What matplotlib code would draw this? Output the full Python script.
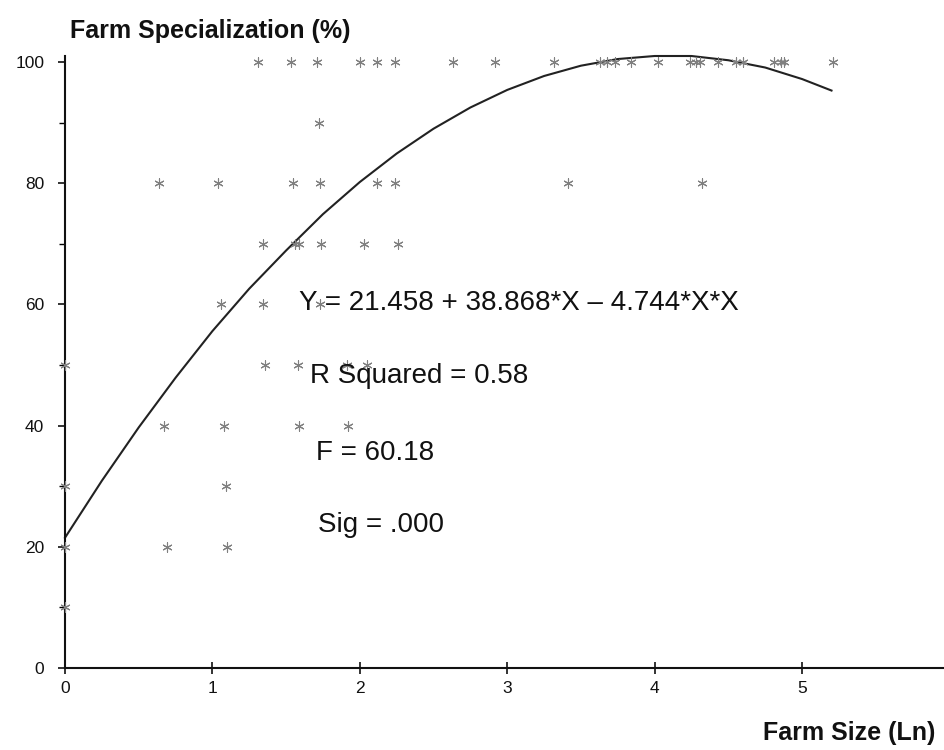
import matplotlib
matplotlib.use("Agg")
import matplotlib.pyplot as plt
from matplotlib.ticker import MultipleLocator

plt.rcParams["font.family"] = ["Liberation Sans", "DejaVu Sans"]

# scatter points: farm size (ln) vs specialization (%)
farm_size = [
    # y = 100
    1.31, 1.53, 1.71, 2.00, 2.12, 2.24, 2.63, 2.92, 3.32, 3.63, 3.68, 3.73,
    3.84, 4.02, 4.24, 4.28, 4.31, 4.43, 4.55, 4.60, 4.81, 4.86, 4.88, 5.21,
    # y = 90
    1.72,
    # y = 80
    0.64, 1.04, 1.55, 1.73, 2.12, 2.24, 3.41, 4.32,
    # y = 70
    1.34, 1.56, 1.59, 1.74, 2.03, 2.26,
    # y = 60
    1.06, 1.34, 1.73,
    # y = 50
    0.0, 1.36, 1.58, 1.91, 2.05,
    # y = 40
    0.67, 1.08, 1.59, 1.92,
    # y = 30
    0.0, 1.09,
    # y = 20
    0.0, 0.69, 1.10,
    # y = 10
    0.0,
]
specialization = (
    [100] * 24 + [90] + [80] * 8 + [70] * 6 + [60] * 3 + [50] * 5
    + [40] * 4 + [30] * 2 + [20] * 3 + [10]
)

# fitted quadratic curve, sampled from the drawn line
curve_x = [0.0, 0.25, 0.5, 0.75, 1.0, 1.25, 1.5, 1.75, 2.0, 2.25, 2.5,
           2.75, 3.0, 3.25, 3.5, 3.75, 4.0, 4.25, 4.5, 4.75, 5.0, 5.2]
curve_y = [21.5, 30.9, 39.7, 47.9, 55.6, 62.6, 68.9, 74.9, 80.2, 84.9, 89.0,
           92.5, 95.4, 97.7, 99.4, 100.5, 101.0, 101.0, 100.3, 99.1, 97.2, 95.3]

stats_lines = [
    ("Y = 21.458 + 38.868*X \u2013 4.744*X*X", 1.59, 59.0),
    ("R Squared = 0.58", 1.66, 47.0),
    ("F = 60.18", 1.70, 34.3),
    ("Sig = .000", 1.715, 22.5),
]

fig = plt.figure(figsize=(9.45, 7.5), dpi=100)
ax = fig.add_axes([65 / 945, 82 / 750, 1 - 65 / 945, 612 / 750])

ax.plot(curve_x, curve_y, color="#222222", lw=1.5, clip_on=False, zorder=2)
ax.scatter(farm_size, specialization, marker=(6, 2, 0), s=45,
           color="#808080", linewidths=0.8, clip_on=False, zorder=3)

for txt, tx, ty in stats_lines:
    ax.text(tx, ty, txt, fontsize=20, va="baseline", ha="left", color="#111111")

ax.set_xlim(0, 5.97)
ax.set_ylim(0, 101)
for side in ("top", "right"):
    ax.spines[side].set_visible(False)
for side in ("left", "bottom"):
    ax.spines[side].set_linewidth(1.5)
    ax.spines[side].set_color("#111111")

ax.yaxis.set_major_locator(MultipleLocator(20))
ax.yaxis.set_minor_locator(MultipleLocator(10))
ax.set_xticks([0, 1, 2, 3, 4, 5])
ax.tick_params(axis="x", direction="inout", length=9, width=1.2,
               labelsize=12.5, pad=5, colors="#111111")
ax.tick_params(axis="y", which="major", direction="out", length=5, width=1.2,
               labelsize=12.5, pad=10, colors="#111111")
ax.tick_params(axis="y", which="minor", direction="out", length=4, width=1.0)

fig.text(70 / 945, 1 - 38 / 750, "Farm Specialization (%)", fontsize=18,
         fontweight="bold", ha="left", va="baseline", color="#111111")
fig.text(935 / 945, 1 - 740 / 750, "Farm Size (Ln)", fontsize=18,
         fontweight="bold", ha="right", va="baseline", color="#111111")

fig.savefig("out.png", dpi=100)
